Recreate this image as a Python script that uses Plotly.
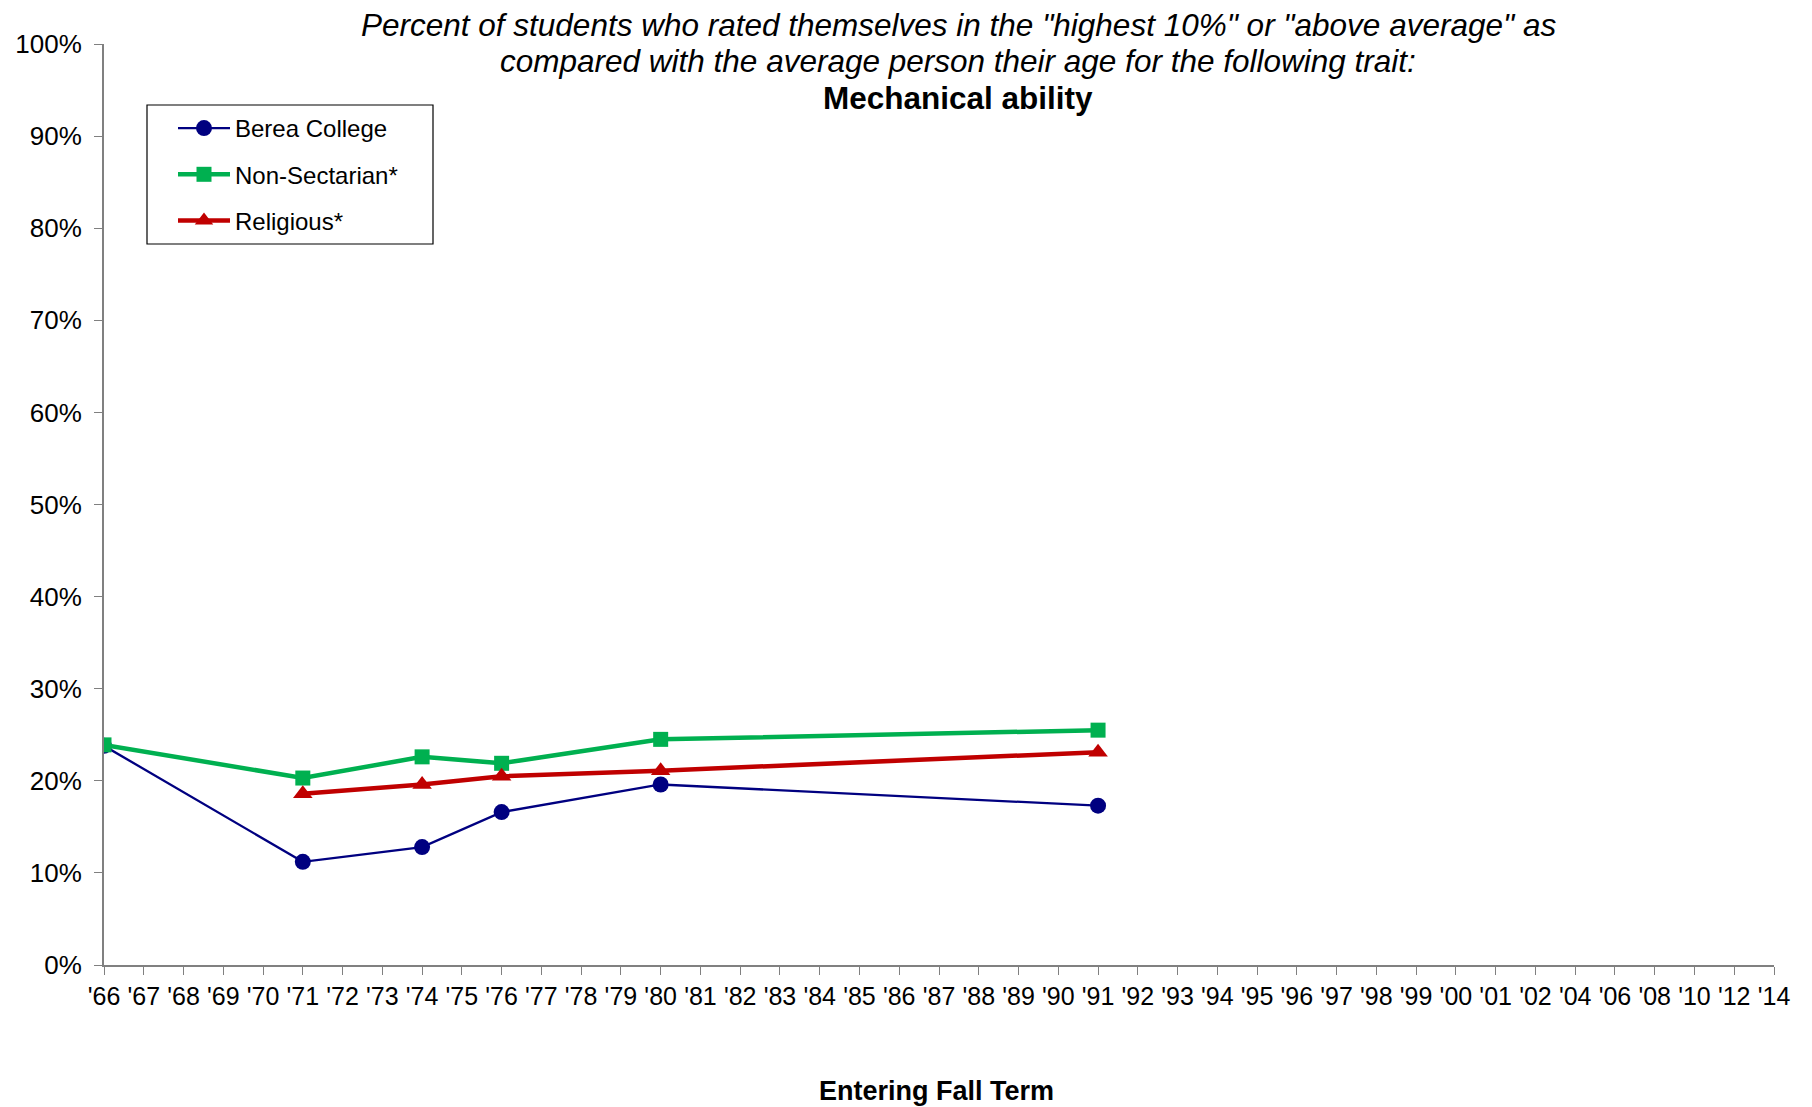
import plotly.graph_objects as go

# Category axis (tick labels)
categories = ["'66", "'67", "'68", "'69", "'70", "'71", "'72", "'73", "'74", "'75",
              "'76", "'77", "'78", "'79", "'80", "'81", "'82", "'83", "'84", "'85",
              "'86", "'87", "'88", "'89", "'90", "'91", "'92", "'93", "'94", "'95",
              "'96", "'97", "'98", "'99", "'00", "'01", "'02", "'04", "'06", "'08",
              "'10", "'12", "'14"]

# Years with data
data_years = ["'66", "'71", "'74", "'76", "'80", "'91"]
berea = [0.238, 0.112, 0.128, 0.166, 0.196, 0.173]
non_sectarian = [0.239, 0.203, 0.226, 0.219, 0.245, 0.255]
religious = [None, 0.186, 0.196, 0.205, 0.211, 0.231]

FONT = "Liberation Sans, Arial, sans-serif"

fig = go.Figure()
fig.add_trace(go.Scatter(
    x=data_years, y=berea, name="Berea College", mode="lines+markers",
    line=dict(color="#000080", width=2.3),
    marker=dict(symbol="circle", size=16, color="#000080"),
    legendgroup="a"))
fig.add_trace(go.Scatter(
    x=data_years, y=non_sectarian, name="Non-Sectarian*", mode="lines+markers",
    line=dict(color="#00B050", width=4.5),
    marker=dict(symbol="square", size=15, color="#00B050"),
    legendgroup="b"))
fig.add_trace(go.Scatter(
    x=data_years, y=religious, name="Religious*", mode="lines+markers",
    line=dict(color="#C00000", width=4.5),
    marker=dict(symbol="triangle-up", size=17, color="#C00000"),
    legendgroup="c"))

# page body has an 8px margin
W, H = 1804, 1099
L, T = 96, 36
R = W - 1766
B = H - 957
pw = W - L - R
ph = H - T - B


def px_x(x):
    return (x - L) / pw


def px_y(y):
    return 1 - (y - T) / ph


fig.update_layout(
    width=W, height=H,
    margin=dict(l=L, r=R, t=T, b=B, pad=0, autoexpand=False),
    paper_bgcolor="white", plot_bgcolor="white",
    font=dict(family=FONT, color="black"),
    showlegend=True,
    legend=dict(
        x=px_x(165), y=px_y(98), xanchor="left", yanchor="top",
        borderwidth=0, bgcolor="rgba(0,0,0,0)",
        font=dict(size=24, family=FONT), tracegroupgap=12,
        itemwidth=52,
    ),
    xaxis=dict(
        type="category", categoryorder="array", categoryarray=categories,
        tickmode="array", tickvals=categories, ticktext=categories,
        range=[0, len(categories) - 1], automargin=False,
        showline=True, linecolor="#808080", linewidth=2,
        ticks="outside", ticklen=8, tickcolor="#808080", tickwidth=1,
        tickfont=dict(size=25, family=FONT),
        showgrid=False, zeroline=False,
    ),
    yaxis=dict(
        range=[0, 1], tickformat=".0%", dtick=0.1, automargin=False,
        showline=True, linecolor="#808080", linewidth=2,
        ticks="outside", ticklen=8, tickcolor="#808080", tickwidth=1,
        tickfont=dict(size=26, family=FONT), ticklabelstandoff=7,
        showgrid=False, zeroline=False,
    ),
)

# legend frame
fig.add_shape(
    type="rect", xref="paper", yref="paper",
    x0=px_x(139), x1=px_x(425), y0=px_y(236), y1=px_y(97),
    line=dict(color="black", width=1.2), fillcolor="rgba(0,0,0,0)", layer="below",
)

title_lines = [
    ("<i>Percent of students who rated themselves in the \"highest 10%\" or \"above average\" as</i>", 17),
    ("<i>compared with the average person their age for the following trait:</i>", 53),
    ("<b>Mechanical ability</b>", 90),
]
for txt, yy in title_lines:
    fig.add_annotation(
        xref="paper", yref="paper",
        x=px_x(950), y=px_y(yy), xanchor="center", yanchor="middle",
        text=txt, showarrow=False, align="center",
        font=dict(size=31.5, family=FONT, color="black"),
    )

fig.add_annotation(
    xref="paper", yref="paper",
    x=px_x(928), y=px_y(1083), xanchor="center", yanchor="middle",
    text="<b>Entering Fall Term</b>", showarrow=False,
    font=dict(size=27, family=FONT, color="black"),
)

fig.write_html("out.html")
